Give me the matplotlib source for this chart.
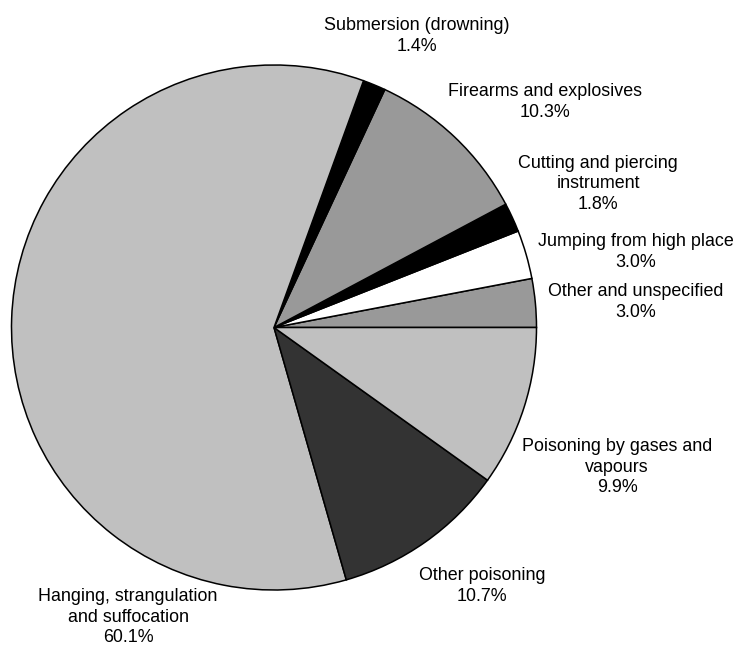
import matplotlib
matplotlib.use("Agg")
import matplotlib.pyplot as plt

# Suicide methods, share of total (%)
categories = [
    "Other and unspecified",
    "Jumping from high place",
    "Cutting and piercing\ninstrument",
    "Firearms and explosives",
    "Submersion (drowning)",
    "Hanging, strangulation\nand suffocation",
    "Other poisoning",
    "Poisoning by gases and\nvapours",
]
shares = [3.0, 3.0, 1.8, 10.3, 1.4, 60.1, 10.7, 9.9]

fills = ["#999999", "#ffffff", "#000000", "#999999",
         "#000000", "#c0c0c0", "#333333", "#c0c0c0"]

# label block centres in figure pixels (x from left, y from top)
label_xy = [(636, 302), (636, 252), (598, 184), (545, 102),
            (417, 36), (128, 617), (482, 586), (617, 467)]

W, H = 736, 646
plt.rcParams["font.family"] = ["Liberation Sans", "DejaVu Sans"]

fig = plt.figure(figsize=(W / 100, H / 100), dpi=100)
ax = fig.add_axes([0, 0, 1, 1])

cx, cy, r = 274, H - 327.5, 262.5
ax.pie(shares, colors=fills, startangle=0, counterclock=True,
       center=(cx, cy), radius=r, frame=True,
       wedgeprops=dict(edgecolor="black", linewidth=1.1))
ax.set_xlim(0, W)
ax.set_ylim(0, H)
ax.set_aspect("equal")
ax.axis("off")

for name, val, (lx, ly) in zip(categories, shares, label_xy):
    ax.text(lx, H - ly, f"{name}\n{val:.1f}%", ha="center", va="center",
            multialignment="center", fontsize=12.9, linespacing=1.25,
            color="black")

fig.savefig("out.png", dpi=100)
